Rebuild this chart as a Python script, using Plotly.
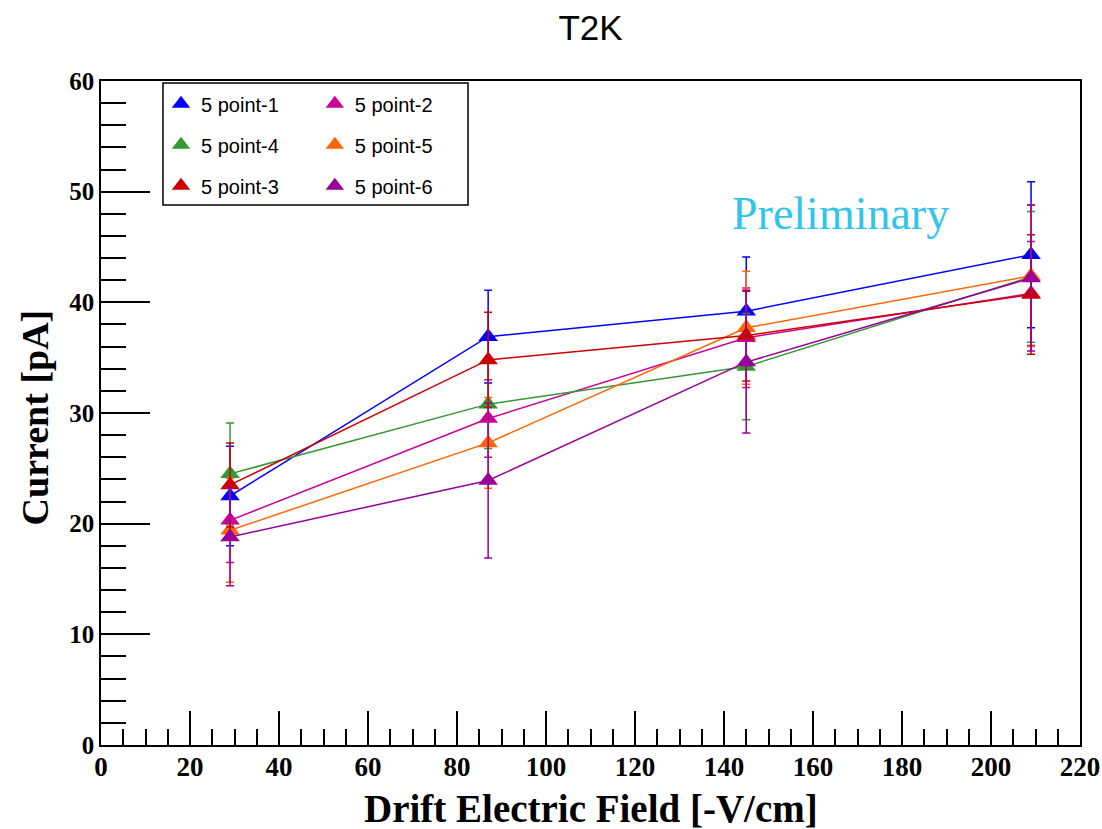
import plotly.graph_objects as go

# Drift field settings [-V/cm]
drift_field = [29, 87, 145, 209]

# Measured current [pA] and uncertainties for each probe point
p1_current = [22.5, 36.9, 39.2, 44.3]
p1_error = [4.5, 4.2, 4.9, 6.6]
p2_current = [20.3, 29.5, 36.8, 40.8]
p2_error = [3.8, 3.5, 4.5, 4.7]
p4_current = [24.5, 30.8, 34.2, 42.3]
p4_error = [4.6, 4.0, 4.8, 5.9]
p5_current = [19.4, 27.3, 37.7, 42.4]
p5_error = [4.7, 4.1, 5.1, 6.4]
p3_current = [23.5, 34.8, 37.0, 40.7]
p3_error = [3.8, 4.3, 4.1, 5.4]
p6_current = [18.8, 23.9, 34.6, 42.2]
p6_error = [4.4, 7.0, 6.4, 6.6]

series = [
    ("5 point-1", p1_current, p1_error, "#0000ff", "legend"),
    ("5 point-2", p2_current, p2_error, "#cc0099", "legend2"),
    ("5 point-4", p4_current, p4_error, "#339933", "legend"),
    ("5 point-5", p5_current, p5_error, "#ff6600", "legend2"),
    ("5 point-3", p3_current, p3_error, "#cc0000", "legend"),
    ("5 point-6", p6_current, p6_error, "#990099", "legend2"),
]

fig = go.Figure()
for name, cur, err, color, leg in series:
    fig.add_trace(go.Scatter(
        x=drift_field, y=cur, mode="lines+markers", name=name,
        line=dict(color=color, width=1.5),
        marker=dict(symbol="triangle-up", size=17, color=color),
        error_y=dict(type="data", array=err, color=color, thickness=1.5, width=4),
        showlegend=False,
    ))
    # marker-only entry for the legend box
    fig.add_trace(go.Scatter(
        x=[None], y=[None], mode="markers", name=name, legend=leg,
        legendgroup=name,
        marker=dict(symbol="triangle-up", size=16, color=color),
    ))

serif = "Liberation Serif, Times New Roman, serif"
sans = "Liberation Sans, Arial, sans-serif"

legend_common = dict(
    yanchor="top", xanchor="left", bgcolor="rgba(0,0,0,0)", borderwidth=0,
    font=dict(family=sans, size=20, color="black"), tracegroupgap=12,
    itemsizing="trace",
)

tick_font = dict(family=serif, size=27, color="black", weight="bold")

fig.update_layout(
    width=1102, height=829,
    margin=dict(l=101, r=22, t=81, b=84, autoexpand=False),
    paper_bgcolor="white", plot_bgcolor="white",
    title=dict(text="T2K", xref="paper", x=0.5, xanchor="center",
               y=0.967, yanchor="middle",
               font=dict(family=sans, size=35, color="black")),
    legend=dict(x=0.0613, y=0.995, **legend_common),
    legend2=dict(x=0.2184, y=0.995, **legend_common),
    xaxis=dict(
        range=[0, 220], dtick=20, tick0=0, automargin=False,
        showline=True, linecolor="black", linewidth=1.5, mirror=True,
        ticks="inside", ticklen=34, tickwidth=1.5, tickcolor="black",
        minor=dict(ticks="inside", ticklen=16, dtick=5, tickwidth=1.5, tickcolor="black"),
        showgrid=False, zeroline=False, ticklabelstandoff=-3,
        tickfont=tick_font,
    ),
    yaxis=dict(
        range=[0, 60], dtick=10, tick0=0, automargin=False,
        showline=True, linecolor="black", linewidth=1.5, mirror=True,
        ticks="inside", ticklen=49, tickwidth=1.5, tickcolor="black",
        minor=dict(ticks="inside", ticklen=25, dtick=2, tickwidth=1.5, tickcolor="black"),
        showgrid=False, zeroline=False,
        tickfont=dict(family=serif, size=25, color="black", weight="bold"),
    ),
    shapes=[dict(type="rect", xref="paper", yref="paper",
                 x0=0.0633, x1=0.3749, y0=0.8133, y1=0.997,
                 line=dict(color="black", width=1.5), fillcolor="rgba(0,0,0,0)")],
    annotations=[
        dict(text="Preliminary", xref="paper", yref="paper", x=0.755, y=0.801,
             xanchor="center", yanchor="middle",
             showarrow=False, font=dict(family=serif, size=46, color="#33c4ec")),
        dict(text="Drift Electric Field [-V/cm]", xref="paper", yref="paper",
             x=0.5, y=-0.095, xanchor="center", yanchor="middle", showarrow=False,
             font=dict(family=serif, size=39, color="black", weight="bold")),
        dict(text="Current [pA]", xref="paper", yref="paper",
             x=-0.067, y=0.494, xanchor="center", yanchor="middle", textangle=-90,
             showarrow=False,
             font=dict(family=serif, size=38, color="black", weight="bold")),
    ],
)

fig.write_html("out.html")
